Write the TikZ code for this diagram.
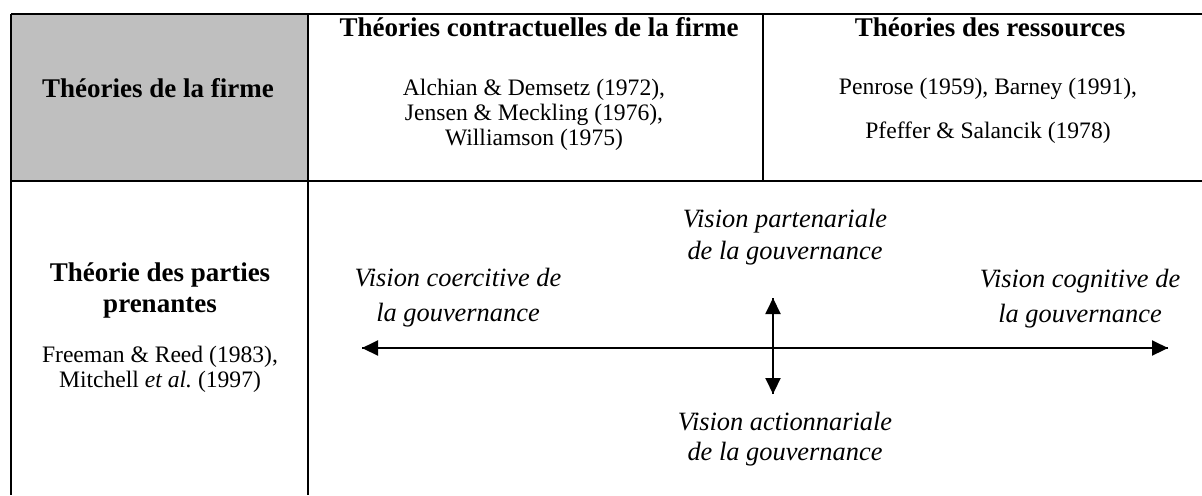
\documentclass[tikz,border=0pt]{standalone}
\usepackage{fontspec}
\setmainfont{Liberation Serif}
\tikzset{
  rule/.style={line width=1.1pt, black},
  head/.style={font=\fontsize{13.5}{15.5}\selectfont\bfseries, inner sep=0pt, anchor=base, align=center},
  refs/.style={font=\fontsize{11.8}{12.5}\selectfont, inner sep=0pt, anchor=base, align=center},
  vision/.style={font=\fontsize{13.2}{16}\selectfont\itshape, inner sep=0pt, anchor=base, align=center},
  axis/.style={line width=1pt, -{Triangle[length=8pt,width=7.5pt]}}
}
\usetikzlibrary{arrows.meta}
\begin{document}
\begin{tikzpicture}[x=0.5pt,y=0.5pt]
\useasboundingbox (0,0) rectangle (1202,-495);
% table
\fill [gray!50] (11,-14) rectangle (308,-181);
\draw [rule] (11,-14) -- (1202,-14);
\draw [rule] (11,-181) -- (1202,-181);
\draw [rule] (11,-14) -- (11,-495);
\draw [rule] (308,-14) -- (308,-495);
\draw [rule] (763,-14) -- (763,-181);
% top row
\node [head] (firme) at (158,-97) {Théories de la firme};
\node [head] (contrat) at (539,-36) {Théories contractuelles de la firme};
\node [refs] (contratrefs) at (534,-145) {Alchian \& Demsetz (1972),\\Jensen \& Meckling (1976),\\Williamson (1975)};
\node [head] (ressources) at (990,-36) {Théories des ressources};
\node [refs] (penrose) at (988,-94) {Penrose (1959), Barney (1991),};
\node [refs] (pfeffer) at (988,-138) {Pfeffer \& Salancik (1978)};
% bottom row
\node [head] (pp) at (160,-312) {Théorie des parties\\prenantes};
\node [refs] (pprefs) at (160,-387) {Freeman \& Reed (1983),\\Mitchell \textit{et al.}\ (1997)};
\node [vision] (coercitive) at (458,-321) {Vision coercitive de\\[1.5pt]la gouvernance};
\node [vision] (partenariale) at (785,-259) {Vision partenariale\\de la gouvernance};
\node [vision] (cognitive) at (1080,-322) {Vision cognitive de\\[1.5pt]la gouvernance};
\node [vision] (actionnariale) at (785,-460) {Vision actionnariale\\[-1pt]de la gouvernance};
% axes
\coordinate (west) at (362,-348);
\coordinate (east) at (1168,-348);
\coordinate (north) at (773,-298);
\coordinate (south) at (773,-394);
\draw [axis] (east) -- (west);
\draw [axis] (west) -- (east);
\draw [axis] (north) -- (south);
\draw [axis] (south) -- (north);
\end{tikzpicture}
\end{document}
